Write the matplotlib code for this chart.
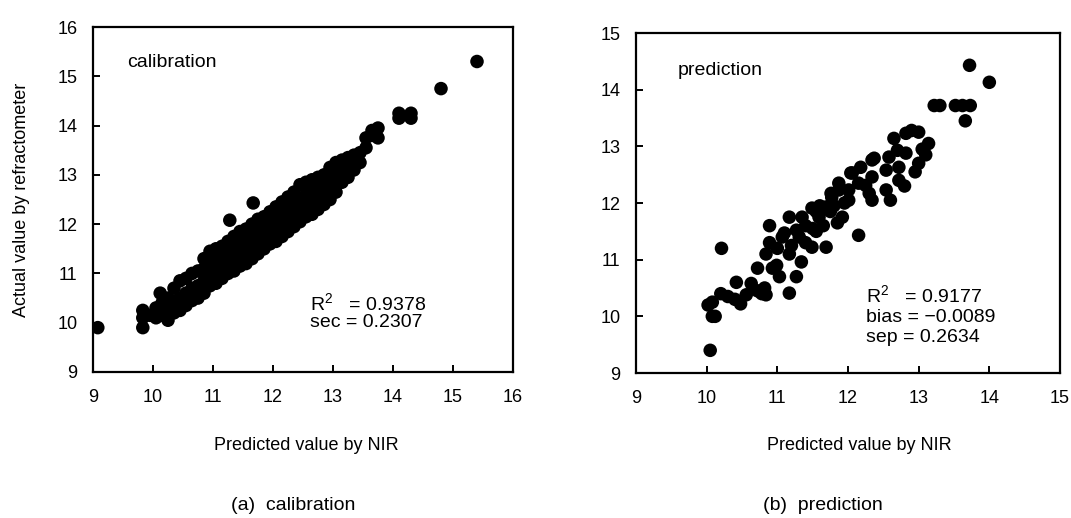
import matplotlib
matplotlib.use("Agg")
import matplotlib.pyplot as plt

plt.rcParams['font.family'] = ['Liberation Sans', 'DejaVu Sans']
plt.rcParams['mathtext.fontset'] = 'custom'
plt.rcParams['mathtext.rm'] = 'Liberation Sans'
plt.rcParams['mathtext.it'] = 'Liberation Sans'

# ---- calibration set (predicted by NIR, actual by refractometer) ----
calib_x = [
    9.08, 9.83, 9.83, 9.83, 9.95,
    10.05, 10.05, 10.12, 10.15, 10.15,
    10.25, 10.25, 10.25, 10.35, 10.35, 10.35,
    10.45, 10.45, 10.45, 10.55, 10.55, 10.55,
    10.65, 10.65, 10.65, 10.75, 10.75, 10.75,
    10.85, 10.85, 10.85, 10.85, 10.95, 10.95, 10.95, 10.95,
    11.05, 11.05, 11.05, 11.05, 11.15, 11.15, 11.15, 11.15,
    11.25, 11.25, 11.25, 11.25, 11.28, 11.35, 11.35, 11.35, 11.35,
    11.45, 11.45, 11.45, 11.45, 11.55, 11.55, 11.55, 11.55,
    11.65, 11.65, 11.65, 11.65, 11.67, 11.75, 11.75, 11.75, 11.75,
    11.85, 11.85, 11.85, 11.85, 11.95, 11.95, 11.95, 11.95,
    12.05, 12.05, 12.05, 12.05, 12.15, 12.15, 12.15, 12.15,
    12.25, 12.25, 12.25, 12.25, 12.35, 12.35, 12.35, 12.35,
    12.45, 12.45, 12.45, 12.45, 12.55, 12.55, 12.55, 12.55,
    12.65, 12.65, 12.65, 12.65, 12.75, 12.75, 12.75, 12.75,
    12.85, 12.85, 12.85, 12.85, 12.95, 12.95, 12.95, 12.95,
    13.05, 13.05, 13.05, 13.05, 13.15, 13.15, 13.15, 13.15,
    13.25, 13.25, 13.25, 13.35, 13.35, 13.35,
    13.45, 13.45, 13.55, 13.55, 13.65, 13.65, 13.75, 13.75,
    14.1, 14.1, 14.3, 14.3, 14.8, 15.4,
]
calib_y = [
    9.9, 9.9, 10.1, 10.25, 10.15,
    10.1, 10.3, 10.6, 10.15, 10.4,
    10.05, 10.3, 10.5, 10.2, 10.4, 10.7,
    10.25, 10.5, 10.85, 10.35, 10.6, 10.9,
    10.45, 10.7, 11.0, 10.5, 10.75, 11.05,
    10.6, 10.85, 11.1, 11.3, 10.75, 10.95, 11.2, 11.45,
    10.8, 11.05, 11.3, 11.5, 10.9, 11.1, 11.35, 11.55,
    11.0, 11.2, 11.45, 11.65, 12.08, 11.05, 11.3, 11.5, 11.75,
    11.15, 11.4, 11.6, 11.85, 11.2, 11.45, 11.7, 11.9,
    11.3, 11.55, 11.8, 12.0, 12.43, 11.4, 11.6, 11.85, 12.1,
    11.5, 11.7, 11.95, 12.15, 11.6, 11.8, 12.05, 12.25,
    11.65, 11.9, 12.1, 12.35, 11.75, 12.0, 12.2, 12.45,
    11.85, 12.05, 12.3, 12.55, 11.95, 12.15, 12.4, 12.65,
    12.05, 12.25, 12.5, 12.8, 12.15, 12.35, 12.6, 12.85,
    12.2, 12.45, 12.7, 12.9, 12.3, 12.55, 12.75, 12.95,
    12.4, 12.6, 12.85, 13.0, 12.5, 12.7, 12.9, 13.15,
    12.65, 12.85, 13.05, 13.25, 12.85, 13.0, 13.2, 13.3,
    12.95, 13.15, 13.35, 13.1, 13.3, 13.4,
    13.25, 13.45, 13.55, 13.75, 13.8, 13.9, 13.75, 13.95,
    14.15, 14.25, 14.15, 14.25, 14.75, 15.3,
]

# ---- prediction set ----
pred_x = [
    10.05, 10.08, 10.12, 10.02, 10.08, 10.21,
    10.2, 10.3, 10.4, 10.48, 10.56, 10.42, 10.63, 10.72, 10.82, 10.84, 10.78,
    10.72, 10.84, 10.89, 10.89, 10.93, 11.03, 10.99, 11.17, 11.27, 11.34,
    11.07, 11.17, 11.17, 11.27, 11.31, 11.1, 11.0, 11.2,
    11.49, 11.69, 11.49, 11.59, 11.69, 11.77, 11.87, 11.92, 11.4, 11.55,
    11.6, 11.75, 11.4, 11.5, 11.65, 11.35, 11.55, 11.8, 11.95, 11.85,
    12.01, 12.06, 12.15, 12.18, 12.25, 12.34, 12.34, 12.04, 12.15, 12.34,
    12.3, 12.01, 12.54, 12.54, 12.72, 12.72, 12.58, 12.37, 12.7, 12.82,
    12.65, 12.82, 12.9, 13.0, 13.14, 13.1, 13.0, 11.87, 11.76,
    12.6, 12.8, 12.95, 13.05,
    13.22, 13.3, 13.52, 13.62, 13.73, 13.66, 13.72, 14.0,
]
pred_y = [
    9.4, 10.0, 10.0, 10.2, 10.25, 11.2,
    10.4, 10.35, 10.3, 10.22, 10.38, 10.6, 10.58, 10.45, 10.5, 10.38, 10.4,
    10.85, 11.1, 11.3, 11.6, 10.85, 10.7, 10.9, 10.41, 10.7, 10.96,
    11.4, 11.1, 11.75, 11.52, 11.4, 11.47, 11.2, 11.25,
    11.22, 11.22, 11.91, 11.75, 11.93, 12.1, 12.23, 11.75, 11.6, 11.5,
    11.95, 11.85, 11.3, 11.55, 11.6, 11.75, 11.85, 11.95, 12.0, 11.65,
    12.05, 12.53, 11.43, 12.63, 12.31, 12.05, 12.76, 12.53, 12.35, 12.46,
    12.17, 12.23, 12.23, 12.58, 12.63, 12.4, 12.81, 12.79, 12.93, 12.88,
    13.14, 13.23, 13.28, 13.25, 13.05, 12.85, 12.7, 12.35, 12.17,
    12.05, 12.3, 12.55, 12.95,
    13.72, 13.72, 13.72, 13.72, 13.72, 13.45, 14.43, 14.13,
]

calib_ticks = [9, 10, 11, 12, 13, 14, 15, 16]
pred_ticks = [9, 10, 11, 12, 13, 14, 15]

W, H = 1071, 518
fig = plt.figure(figsize=(W / 100, H / 100), dpi=100)

def px_axes(x0, y0, x1, y1):
    return fig.add_axes([x0 / W, 1 - y1 / H, (x1 - x0) / W, (y1 - y0) / H])

ax1 = px_axes(93, 27, 513, 372)
ax2 = px_axes(636, 33, 1060, 373)

def style(ax, ticks):
    ax.set_xlim(ticks[0], ticks[-1])
    ax.set_ylim(ticks[0], ticks[-1])
    ax.set_xticks(ticks)
    ax.set_yticks(ticks)
    for s in ax.spines.values():
        s.set_linewidth(1.6)
        s.set_color('black')
    ax.tick_params(direction='in', length=5, width=1.4, labelsize=13,
                   colors='black')
    ax.tick_params(axis='x', pad=12)
    ax.tick_params(axis='y', pad=11)

ax1.scatter(calib_x, calib_y, s=95, c='black', edgecolors='none', clip_on=True)
ax2.scatter(pred_x, pred_y, s=95, c='black', edgecolors='none', clip_on=True)
style(ax1, calib_ticks)
style(ax2, pred_ticks)

fs = 14
ax1.text(9.57, 15.27, 'calibration', fontsize=fs, va='center', ha='left')
ax1.text(12.62, 10.40, 'R$^2$   = 0.9378', fontsize=fs, va='center', ha='left')
ax1.text(12.62, 10.01, 'sec = 0.2307', fontsize=fs, va='center', ha='left')

ax2.text(9.59, 14.34, 'prediction', fontsize=fs, va='center', ha='left')
ax2.text(12.25, 10.38, 'R$^2$   = 0.9177', fontsize=fs, va='center', ha='left')
ax2.text(12.25, 9.98, 'bias = \u22120.0089', fontsize=fs, va='center', ha='left')
ax2.text(12.25, 9.62, 'sep = 0.2634', fontsize=fs, va='center', ha='left')

fig.text(306 / W, 1 - 445 / H, 'Predicted value by NIR', fontsize=13,
         ha='center', va='center')
fig.text(859 / W, 1 - 445 / H, 'Predicted value by NIR', fontsize=13,
         ha='center', va='center')
fig.text(22 / W, 1 - 200 / H, 'Actual value by refractometer', fontsize=13,
         ha='center', va='center', rotation=90)
fig.text(293 / W, 1 - 505 / H, '(a)  calibration', fontsize=14,
         ha='center', va='center')
fig.text(823 / W, 1 - 505 / H, '(b)  prediction', fontsize=14,
         ha='center', va='center')

fig.savefig('out.png', dpi=100)
